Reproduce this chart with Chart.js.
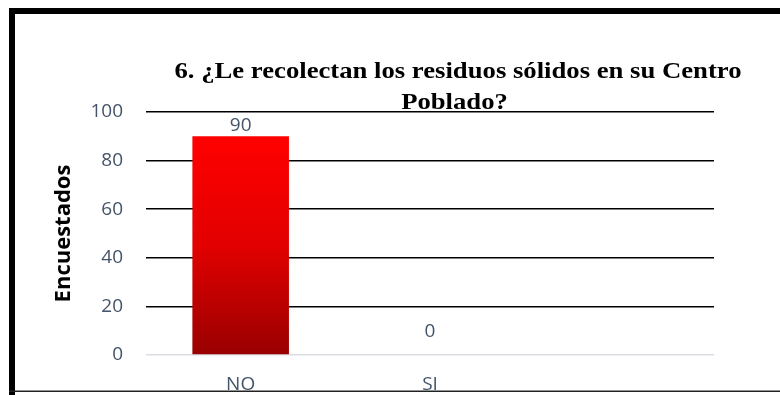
<!DOCTYPE html>
<html>
<head>
<meta charset="utf-8">
<script src="https://cdn.jsdelivr.net/npm/chart.js@4.4.1/dist/chart.umd.min.js"></script>
<style>
  html, body { margin: 0; padding: 0; background: #fff; }
  #wrap { width: 780px; height: 395px; }
</style>
</head>
<body>
<div id="wrap"><canvas id="c" width="780" height="395"></canvas></div>
<script>
const categories = ['NO', 'SI', ''];
const encuestados = [90, 0, null];
const yTicks = [0, 20, 40, 60, 80, 100];
const titleLines = ['6. ¿Le recolectan los residuos sólidos en su Centro', 'Poblado?'];
const yTitle = 'Encuestados';

const TEXT_COLOR = '#44546A';
const SANS = '"Open Sans", "Liberation Sans", sans-serif';

function barGradient(context) {
  const chart = context.chart;
  const area = chart.chartArea;
  if (!area) return '#E00000';
  const ys = chart.scales.y;
  const v = context.raw == null ? 0 : context.raw;
  const top = ys.getPixelForValue(v);
  const bottom = ys.getPixelForValue(0);
  if (bottom - top < 1) return '#FF0000';
  const g = chart.ctx.createLinearGradient(0, top, 0, bottom);
  g.addColorStop(0, '#FF0000');
  g.addColorStop(0.5, '#E20000');
  g.addColorStop(1, '#990000');
  return g;
}

const framePlugin = {
  id: 'frame',
  beforeDraw(chart) {
    const ctx = chart.ctx;
    ctx.save();
    ctx.fillStyle = '#FFFFFF';
    ctx.fillRect(0, 0, chart.width, chart.height);
    ctx.restore();
  },
  afterDraw(chart) {
    const ctx = chart.ctx;
    ctx.save();
    // cover below bottom rule
    ctx.fillStyle = '#FFFFFF';
    ctx.fillRect(0, 392, chart.width, chart.height - 392);
    // outer frame
    ctx.fillStyle = '#000000';
    ctx.fillRect(9, 8, chart.width - 9, 6);
    ctx.fillRect(9, 8, 6, chart.height - 8);
    ctx.fillStyle = '#222222';
    ctx.fillRect(9, 390.5, chart.width - 9, 1.5);
    // title (slightly widened to match the reference's proportions)
    ctx.fillStyle = '#000000';
    ctx.font = 'bold 23px "Liberation Serif", "Times New Roman", serif';
    ctx.textAlign = 'center';
    ctx.textBaseline = 'alphabetic';
    const sx = 1.16;
    ctx.save();
    ctx.translate(458, 78);
    ctx.scale(sx, 1);
    ctx.fillText(titleLines[0], 0, 0);
    ctx.restore();
    ctx.save();
    ctx.translate(454.5, 108.5);
    ctx.scale(sx, 1);
    ctx.fillText(titleLines[1], 0, 0);
    ctx.restore();
    ctx.restore();
  }
};

const valueLabelPlugin = {
  id: 'valueLabels',
  afterDatasetsDraw(chart) {
    const ctx = chart.ctx;
    const meta = chart.getDatasetMeta(0);
    ctx.save();
    ctx.fillStyle = TEXT_COLOR;
    ctx.font = '19px ' + SANS;
    ctx.textAlign = 'center';
    ctx.textBaseline = 'alphabetic';
    meta.data.forEach((bar, i) => {
      const v = encuestados[i];
      if (v == null) return;
      const off = v > 0 ? 5 : 18;
      ctx.fillText(String(v), bar.x, bar.y - off);
    });
    ctx.restore();
  }
};

new Chart(document.getElementById('c'), {
  type: 'bar',
  data: {
    labels: categories,
    datasets: [{
      label: yTitle,
      data: encuestados,
      backgroundColor: barGradient,
      borderWidth: 0,
      categoryPercentage: 1.0,
      barPercentage: 0.51
    }]
  },
  options: {
    responsive: false,
    animation: false,
    events: [],
    layout: { padding: { top: 112, bottom: 0, left: 40, right: 66 } },
    plugins: {
      legend: { display: false },
      title: { display: false },
      tooltip: { enabled: false }
    },
    scales: {
      x: {
        grid: { display: false, drawTicks: false },
        border: { display: false },
        ticks: { color: TEXT_COLOR, font: { family: SANS, size: 19 }, padding: 18 },
        afterFit(scale) { scale.height = 40; }
      },
      y: {
        min: yTicks[0],
        max: yTicks[yTicks.length - 1],
        afterBuildTicks(scale) { scale.ticks = yTicks.map(v => ({ value: v })); },
        grid: {
          drawTicks: false,
          color: c => (c.tick && c.tick.value === 0) ? '#D9DDE3' : '#000000',
          lineWidth: c => (c.tick && c.tick.value === 0) ? 1.5 : 1.6
        },
        border: { display: false },
        ticks: { color: TEXT_COLOR, font: { family: SANS, size: 19 }, padding: 23 },
        title: {
          display: true,
          text: yTitle,
          color: '#000000',
          font: { family: SANS, size: 22, weight: 'bold' },
          padding: { top: 11, bottom: 0 }
        },
        afterFit(scale) { scale.width = 106; }
      }
    }
  },
  plugins: [framePlugin, valueLabelPlugin]
});
</script>
</body>
</html>
